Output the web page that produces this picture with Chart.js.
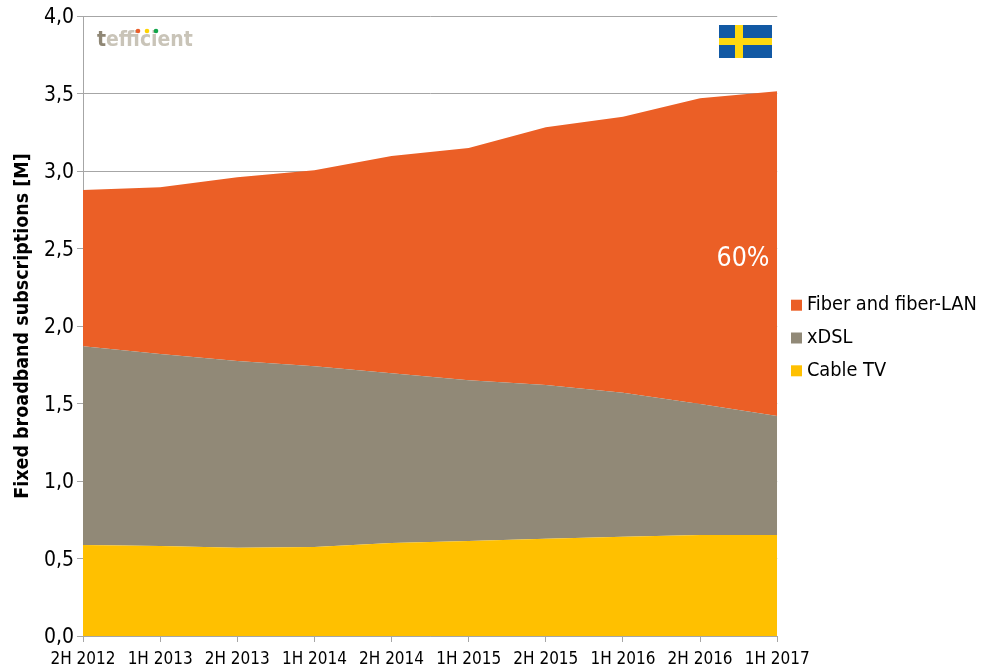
<!DOCTYPE html>
<html><head><meta charset="utf-8">
<style>html,body{margin:0;padding:0;background:#fff}#w{width:985px;height:670px}</style>
<script src="https://cdn.jsdelivr.net/npm/chart.js@4"></script></head>
<body><div id="w"><canvas id="c" width="985" height="670"></canvas></div>
<script>
const categories=["2H 2012","1H 2013","2H 2013","1H 2014","2H 2014","1H 2015","2H 2015","1H 2016","2H 2016","1H 2017"];
const cableTv=[0.587,0.58,0.57,0.575,0.60,0.613,0.627,0.64,0.652,0.652];
const xdsl=[1.283,1.24,1.205,1.165,1.095,1.037,0.993,0.93,0.845,0.768];
const fiber=[1.007,1.075,1.185,1.265,1.402,1.498,1.663,1.78,1.973,2.095];
const FONT='"DejaVu Sans Condensed","DejaVu Sans",sans-serif';
const decor={id:'decor',
 afterLayout(ch){const l=ch.legend;l.left=783;l.top-=5;l.bottom-=5;},
 afterDatasetsDraw(ch){
 const c=ch.ctx;
 c.save();
 c.fillStyle='#fff';c.font='26.5px '+FONT;c.textAlign='center';c.textBaseline='middle';
 c.fillText('60%',743,259);
 c.textAlign='left';c.font='bold 21px '+FONT;c.fillStyle='#c9c4b8';c.fillText('efficient',106,41);
 c.fillStyle='#8f8775';c.fillText('t',97,41);
 [['#ea5f2b',138],['#ffd400',147],['#12a54a',156]].forEach(d=>{c.fillStyle=d[0];c.beginPath();c.arc(d[1],31,2.3,0,7);c.fill();});
 c.fillStyle='#1259a4';c.fillRect(719,25,53,33);
 c.fillStyle='#ffd90f';c.fillRect(735,25,8,33);c.fillRect(719,38,53,7);
 c.restore();
}};
new Chart(document.getElementById('c'),{type:'line',plugins:[decor],
 data:{labels:categories,datasets:[
  {label:'Cable TV',data:cableTv,backgroundColor:'#FFC000',fill:'origin',pointStyle:'rect'},
  {label:'xDSL',data:xdsl,backgroundColor:'#918977',fill:'-1',pointStyle:'rect'},
  {label:'Fiber and fiber-LAN',data:fiber,backgroundColor:'#EB5F26',fill:'-1',pointStyle:'rect'}
 ].map(d=>Object.assign(d,{borderWidth:0,pointRadius:0,tension:0}))},
 options:{responsive:false,animation:false,
  layout:{padding:{top:16,right:4,left:0,bottom:0}},
  plugins:{title:{display:false},tooltip:{enabled:false},
   legend:{position:'right',reverse:true,align:'center',
    labels:{usePointStyle:true,pointStyle:'rect',boxWidth:1,boxHeight:11,padding:13,color:'#000',font:{family:FONT,size:19.8}}}},
  scales:{
   x:{stacked:true,offset:false,
    grid:{display:true,drawOnChartArea:false,drawTicks:true,tickLength:6,color:'#a6a6a6'},
    border:{color:'#a6a6a6'},
    ticks:{autoSkip:false,maxRotation:0,minRotation:0,padding:7,color:'#000',font:{family:FONT,size:17}},
    afterFit(s){s.height=34;}},
   y:{stacked:true,min:0,max:4,
    grid:{color:'#a6a6a6',tickLength:6},border:{color:'#a6a6a6'},
    ticks:{stepSize:0.5,padding:3,labelOffset:2,color:'#000',font:{family:FONT,size:21},callback:v=>v.toFixed(1).replace('.',',')},
    title:{display:true,text:'Fixed broadband subscriptions [M]',color:'#000',font:{family:FONT,size:19.5,weight:'bold'},padding:{top:11,bottom:0}},
    afterFit(s){s.width=83;}}
  }}});
</script></body></html>
